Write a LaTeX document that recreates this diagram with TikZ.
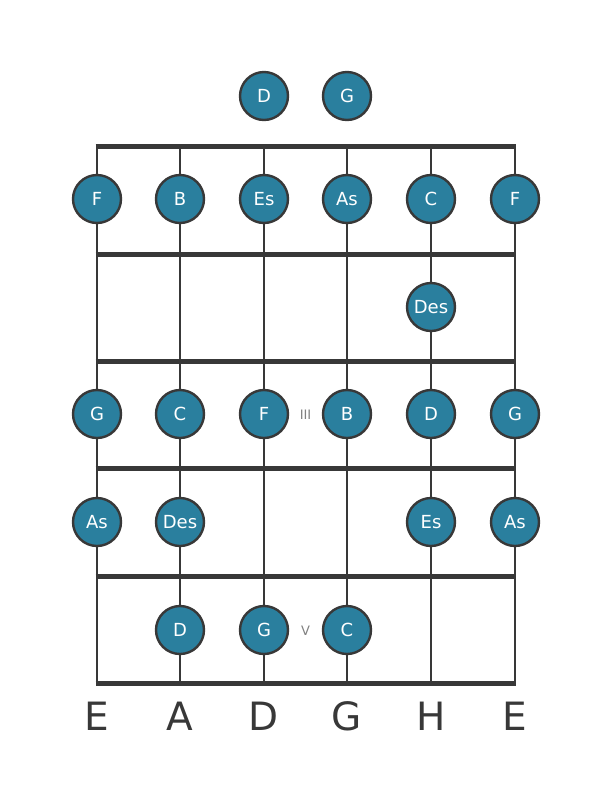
\documentclass[tikz,border=0pt]{standalone}
\usepackage{fontspec}
\setmainfont{DejaVu Sans}
\definecolor{notefill}{HTML}{2A7F9E}
\definecolor{linecol}{HTML}{383838}
\begin{document}
\begin{tikzpicture}[x=1pt,y=-1pt,
  stringline/.style={line width=2.6pt,draw=linecol},
  fretline/.style={line width=5pt,draw=linecol},
  note/.style={circle,minimum size=48pt,inner sep=0pt,fill=notefill,draw=linecol,line width=2.4pt,text=white,font=\fontsize{18}{18}\selectfont},
  strlabel/.style={font=\fontsize{39}{39}\selectfont,text=linecol},
  posmark/.style={font=\fontsize{13}{13}\selectfont,text=gray}]
\useasboundingbox (0,0) rectangle (611,801);
% string and fret coordinates
\foreach \s/\x in {1/97,2/180,3/264,4/347,5/431,6/515}{
  \coordinate (t\s) at (\x,146);
  \coordinate (b\s) at (\x,683);
}
\foreach \f/\y in {0/146,1/254,2/361,3/468,4/576,5/683}{
  \coordinate (fl\f) at (95.7,\y);
  \coordinate (fr\f) at (516.3,\y);
}
\foreach \s in {1,...,6}{ \draw[stringline] (t\s) -- (b\s); }
\foreach \f in {0,...,5}{ \draw[fretline] (fl\f) -- (fr\f); }
% open strings
\node[note] (o3) at (264,96) {D};
\node[note] (o4) at (347,96) {G};
% fret 1
\node[note] (n11) at (97,199) {F};
\node[note] (n12) at (180,199) {B};
\node[note] (n13) at (264,199) {Es};
\node[note] (n14) at (347,199) {As};
\node[note] (n15) at (431,199) {C};
\node[note] (n16) at (515,199) {F};
% fret 2
\node[note] (n25) at (431,307) {Des};
% fret 3
\node[note] (n31) at (97,414) {G};
\node[note] (n32) at (180,414) {C};
\node[note] (n33) at (264,414) {F};
\node[note] (n34) at (347,414) {B};
\node[note] (n35) at (431,414) {D};
\node[note] (n36) at (515,414) {G};
\node[posmark] (m3) at (305.5,415) {III};
% fret 4
\node[note] (n41) at (97,522) {As};
\node[note] (n42) at (180,522) {Des};
\node[note] (n45) at (431,522) {Es};
\node[note] (n46) at (515,522) {As};
% fret 5
\node[note] (n52) at (180,630) {D};
\node[note] (n53) at (264,630) {G};
\node[note] (n54) at (347,630) {C};
\node[posmark] (m5) at (305.5,631) {V};
% string names
\foreach \s/\x/\n in {1/97/E,2/180/A,3/264/D,4/347/G,5/431/H,6/515/E}{
  \node[strlabel] (l\s) at (\x,716) {\n};
}
\end{tikzpicture}
\end{document}
